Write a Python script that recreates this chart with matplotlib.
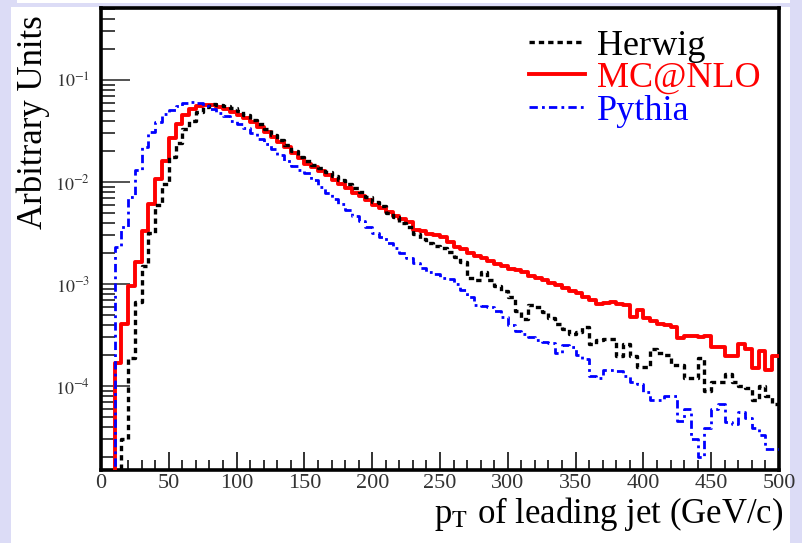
import numpy as np
import matplotlib
matplotlib.use("Agg")
import matplotlib.pyplot as plt
from matplotlib.patches import Rectangle
from matplotlib.ticker import LogLocator, FuncFormatter, MultipleLocator

# pT bins, 5 GeV wide from 0 to 500
bin_edges = np.arange(0, 505, 5)

# MC@NLO
mcatnlo = [
    0, 0, 1.68e-4, 4.1e-4, 9.5e-4, 1.65e-3, 3.3e-3, 6.1e-3, 1.08e-2, 1.6e-2,
    2.7e-2, 3.75e-2, 4.55e-2, 5.2e-2, 5.6e-2, 5.75e-2, 5.7e-2, 5.5e-2, 5.2e-2, 4.9e-2,
    4.6e-2, 4.3e-2, 3.9e-2, 3.45e-2, 3.1e-2, 2.75e-2, 2.45e-2, 2.2e-2, 1.95e-2, 1.72e-2,
    1.52e-2, 1.4e-2, 1.28e-2, 1.17e-2, 1.06e-2, 9.6e-3, 8.7e-3, 7.9e-3, 7.3e-3, 6.6e-3,
    6.0e-3, 5.6e-3, 5.1e-3, 4.6e-3, 4.3e-3, 4.1e-3, 3.4e-3, 3.3e-3, 3.1e-3, 3.0e-3,
    2.9e-3, 2.6e-3, 2.3e-3, 2.2e-3, 2.0e-3, 1.9e-3, 1.8e-3, 1.7e-3, 1.58e-3, 1.5e-3,
    1.42e-3, 1.37e-3, 1.3e-3, 1.2e-3, 1.14e-3, 1.1e-3, 1.02e-3, 9.8e-4, 9.2e-4, 8.5e-4,
    8.1e-4, 7.4e-4, 7.0e-4, 6.4e-4, 6.5e-4, 6.6e-4, 6.4e-4, 6.2e-4, 4.7e-4, 5.6e-4,
    4.6e-4, 4.3e-4, 4.1e-4, 4.0e-4, 3.8e-4, 2.95e-4, 3.1e-4, 3.1e-4, 3.05e-4, 3.1e-4,
    2.4e-4, 2.4e-4, 1.95e-4, 1.95e-4, 2.6e-4, 2.3e-4, 1.5e-4, 2.2e-4, 1.45e-4, 1.95e-4,
]

# Herwig
herwig = [
    0, 0, 0, 3e-5, 1.9e-4, 6.7e-4, 1.5e-3, 3.2e-3, 6.0e-3, 9.5e-3,
    1.75e-2, 2.4e-2, 3.3e-2, 4.0e-2, 4.9e-2, 5.5e-2, 5.8e-2, 5.75e-2, 5.55e-2, 5.3e-2,
    5.0e-2, 4.6e-2, 4.1e-2, 3.7e-2, 3.3e-2, 2.9e-2, 2.6e-2, 2.3e-2, 2.0e-2, 1.78e-2,
    1.6e-2, 1.48e-2, 1.36e-2, 1.25e-2, 1.14e-2, 1.05e-2, 9.5e-3, 8.8e-3, 8.0e-3, 7.2e-3,
    6.4e-3, 5.8e-3, 5.0e-3, 4.5e-3, 4.0e-3, 3.6e-3, 3.1e-3, 2.75e-3, 2.5e-3, 2.35e-3,
    2.25e-3, 2.05e-3, 1.85e-3, 1.64e-3, 1.14e-3, 1.1e-3, 1.3e-3, 1.1e-3, 9.5e-4, 8.5e-4,
    7.5e-4, 5.5e-4, 4.5e-4, 6.3e-4, 6.0e-4, 5.3e-4, 4.6e-4, 4.1e-4, 3.6e-4, 3.2e-4,
    3.4e-4, 3.8e-4, 2.6e-4, 2.8e-4, 2.9e-4, 2.9e-4, 1.95e-4, 2.6e-4, 1.95e-4, 1.55e-4,
    1.55e-4, 2.3e-4, 2.1e-4, 2.0e-4, 1.6e-4, 1.6e-4, 1.2e-4, 1.2e-4, 1.9e-4, 9e-5,
    1.1e-4, 1.1e-4, 1.3e-4, 1.1e-4, 1.0e-4, 9.5e-5, 7.3e-5, 1.0e-4, 8.0e-5, 6.6e-5,
]

# Pythia
pythia = [
    0, 0, 2.3e-3, 3.6e-3, 7.1e-3, 1.31e-2, 2.2e-2, 3.1e-2, 3.9e-2, 4.7e-2,
    5.1e-2, 5.6e-2, 6.0e-2, 6.1e-2, 6.0e-2, 5.6e-2, 5.2e-2, 4.8e-2, 4.4e-2, 4.0e-2,
    3.7e-2, 3.4e-2, 3.0e-2, 2.65e-2, 2.35e-2, 2.1e-2, 1.85e-2, 1.6e-2, 1.45e-2, 1.32e-2,
    1.22e-2, 1.05e-2, 9.0e-3, 7.8e-3, 6.8e-3, 6.1e-3, 5.3e-3, 4.7e-3, 4.2e-3, 3.6e-3,
    3.2e-3, 2.9e-3, 2.5e-3, 2.25e-3, 2.0e-3, 1.8e-3, 1.6e-3, 1.45e-3, 1.3e-3, 1.25e-3,
    1.15e-3, 1.12e-3, 1.0e-3, 8.8e-4, 7.5e-4, 6.2e-4, 6.1e-4, 6.0e-4, 5.5e-4, 4.8e-4,
    4.0e-4, 3.5e-4, 3.2e-4, 3.0e-4, 2.8e-4, 2.7e-4, 2.65e-4, 2.1e-4, 2.5e-4, 2.4e-4,
    2.0e-4, 1.85e-4, 1.25e-4, 1.2e-4, 1.45e-4, 1.45e-4, 1.4e-4, 1.25e-4, 1.1e-4, 1.05e-4,
    8.8e-5, 7.3e-5, 7.3e-5, 8e-5, 8e-5, 4.5e-5, 5.9e-5, 3e-5, 2.0e-5, 3.9e-5,
    5.9e-5, 6.6e-5, 4.4e-5, 4.2e-5, 5.5e-5, 4.9e-5, 3.9e-5, 3.3e-5, 2.4e-5, 2.4e-5,
]

plt.rcParams['font.family'] = ['Liberation Serif', 'DejaVu Serif']
plt.rcParams['mathtext.fontset'] = 'stix'

fig = plt.figure(figsize=(8.03, 5.43), dpi=100)
fig.patch.set_facecolor('#dcdcf6')
# white slide area
fig.patches.append(Rectangle((11 / 803, 0), 779 / 803, 536 / 543,
                             transform=fig.transFigure, facecolor='white',
                             edgecolor='none', zorder=-5))
fig.patches.append(Rectangle((17 / 803, 540 / 543), 773 / 803, 3 / 543,
                             transform=fig.transFigure, facecolor='white',
                             edgecolor='none', zorder=-5))

ax = fig.add_axes([101 / 803, 1 - 470 / 543, 678 / 803, 462 / 543])


def steps(ax, vals, **kw):
    v = np.array(vals, dtype=float)
    v = np.where(v > 0, v, 1e-9)  # empty bins sit below the frame
    return ax.plot(bin_edges, np.append(v, v[-1]), drawstyle='steps-post', **kw)[0]


h_mc = steps(ax, mcatnlo, color='#ff0000', lw=2.8, label='MC@NLO', zorder=3)
h_hw = steps(ax, herwig, color='black', lw=2.4, ls=(0, (1.6, 1.2)), label='Herwig', zorder=4)
h_py = steps(ax, pythia, color='#0000ff', lw=2.0, ls=(0, (3, 1.5, 1, 1.5)), label='Pythia', zorder=4)

ax.set_yscale('log')
ax.set_xlim(0, 500)
ax.set_ylim(1.5e-5, 0.51)

ax.xaxis.set_major_locator(MultipleLocator(50))
ax.xaxis.set_minor_locator(MultipleLocator(10))
ax.xaxis.set_major_formatter(FuncFormatter(lambda x, p: '%d' % x))
ax.yaxis.set_major_locator(LogLocator(base=10))
ax.yaxis.set_minor_locator(LogLocator(base=10, subs=np.arange(2, 10)))
ax.yaxis.set_major_formatter(FuncFormatter(lambda y, p: r'$10^{%d}$' % round(np.log10(y))))

ax.tick_params(axis='x', which='major', direction='in', length=13, width=1.3,
               labelsize=16, pad=3, colors='#222222')
ax.tick_params(axis='x', which='minor', direction='in', length=7, width=1.3, colors='#222222')
ax.tick_params(axis='y', which='major', direction='in', length=21, width=1.3,
               labelsize=13, pad=8, colors='#444444')
ax.tick_params(axis='y', which='minor', direction='in', length=10, width=1.3, colors='#333333')
ax.tick_params(labelcolor='#333333')

for s in ax.spines.values():
    s.set_linewidth(2.6)

ax.set_xlabel(r'p$_{\mathrm{T}}$ of leading jet (GeV/c)', fontsize=25, loc='right')
ax.xaxis.set_label_coords(1.006, -0.055)
ax.set_ylabel('Arbitrary Units', fontsize=25, loc='top')
ax.yaxis.set_label_coords(-0.075, 0.985)

leg = ax.legend(handles=[h_hw, h_mc, h_py], loc='upper right', frameon=False,
                bbox_to_anchor=(1.0, 0.993),
                fontsize=26, handlelength=1.55, handletextpad=0.35,
                labelspacing=-0.02, borderaxespad=0.1)
for t, c in zip(leg.get_texts(), ['black', '#ff0000', '#0000ff']):
    t.set_color(c)

fig.savefig('out.png', dpi=100, facecolor=fig.get_facecolor())
